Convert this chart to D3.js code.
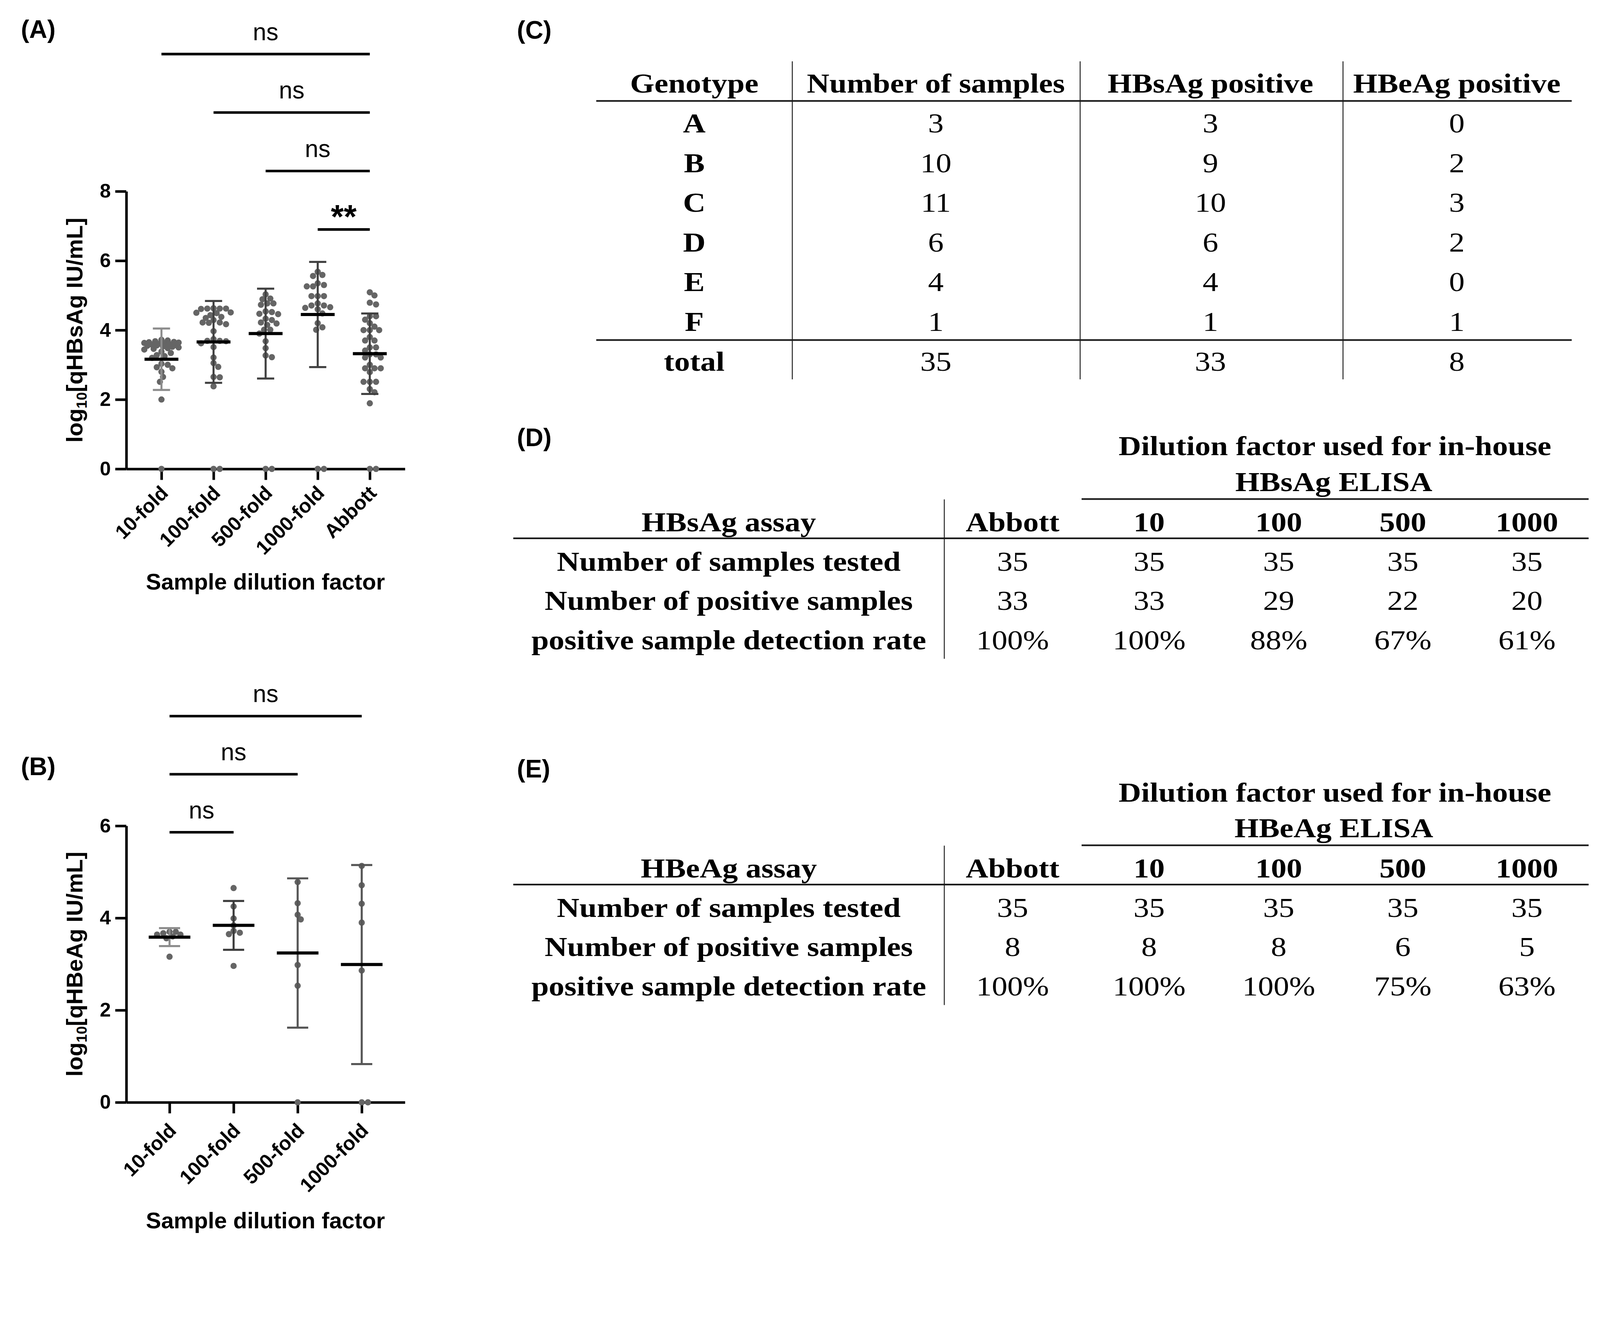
<!DOCTYPE html>
<html>
<head>
<meta charset="utf-8">
<script src="https://cdn.jsdelivr.net/npm/d3@7"></script>
<style>
  html, body { margin: 0; padding: 0; background: #fff; overflow: hidden; }
  svg { display: block; }
</style>
</head>
<body>
<script>
// ================= data =================

// (A) quantitative HBsAg, log10 IU/mL, one array per group (positives only)
const catsA = ["10-fold", "100-fold", "500-fold", "1000-fold", "Abbott"];
const hbs10 = [3.72, 3.70, 3.68, 3.66, 3.65, 3.64, 3.63, 3.62, 3.61, 3.60, 3.58, 3.57, 3.56, 3.55, 3.53,
               3.52, 3.50, 3.48, 3.46, 3.44, 3.38, 3.34, 3.28, 3.25, 3.20, 3.03, 3.00, 2.93, 2.90, 2.80,
               2.65, 2.51, 2.00];
const hbs100 = [4.62, 4.62, 4.61, 4.63, 4.62, 4.50, 4.51, 4.49, 4.43, 4.38, 4.35, 4.29, 4.22, 4.22, 4.21,
                4.17, 3.97, 3.74, 3.69, 3.69, 3.68, 3.62, 3.51, 3.21, 3.05, 2.94, 2.65, 2.64, 2.38];
const hbs500 = [5.03, 4.91, 4.89, 4.77, 4.77, 4.73, 4.54, 4.52, 4.47, 4.46, 4.33, 4.29, 4.22, 4.19, 4.15,
                4.01, 4.01, 3.90, 3.68, 3.48, 3.27, 3.22];
const hbs1000 = [5.68, 5.59, 5.56, 5.35, 5.30, 5.26, 5.26, 4.98, 4.98, 4.98, 4.77, 4.71, 4.71, 4.66, 4.64,
                 4.60, 4.48, 4.20, 4.08, 4.01];
const hbsAbbott = [5.09, 5.00, 4.79, 4.74, 4.40, 4.40, 4.30, 4.20, 4.10, 4.00, 4.00, 4.00, 3.80, 3.70, 3.70,
                   3.50, 3.50, 3.41, 3.30, 3.30, 3.21, 3.21, 3.00, 2.90, 2.90, 2.90, 2.79, 2.51, 2.51, 2.51,
                   2.30, 2.21, 1.89];
const hbsZeros = [1, 2, 2, 2, 2];          // dots drawn on the 0 line
const hbsMean = [3.16, 3.66, 3.90, 4.45, 3.32];
const hbsSD = [0.885, 1.18, 1.295, 1.515, 1.16];
// comparisons, bottom bracket first: [from, to, label]
const sigA = [[3, 4, "**"], [2, 4, "ns"], [1, 4, "ns"], [0, 4, "ns"]];

// (B) quantitative HBeAg
const catsB = ["10-fold", "100-fold", "500-fold", "1000-fold"];
const hbe10 = [3.70, 3.70, 3.67, 3.64, 3.64, 3.60, 3.56, 3.16];
const hbe100 = [4.65, 4.25, 3.99, 3.84, 3.72, 3.68, 3.65, 2.96];
const hbe500 = [4.78, 4.32, 4.07, 3.97, 2.98, 2.53];
const hbe1000 = [5.13, 4.71, 4.31, 3.90, 2.86];
const hbeZeros = [0, 0, 1, 2];
const hbeMean = [3.585, 3.84, 3.24, 2.99];
const hbeSD = [0.195, 0.53, 1.62, 2.16];
const sigB = [[0, 1, "ns"], [0, 2, "ns"], [0, 3, "ns"]];

// (C) genotypes
const headC = ["Genotype", "Number of samples", "HBsAg positive", "HBeAg positive"];
const genotypes = ["A", "B", "C", "D", "E", "F"];
const nSamples = [3, 10, 11, 6, 4, 1];
const hbsPositive = [3, 9, 10, 6, 4, 1];
const hbePositive = [0, 2, 3, 2, 0, 1];
const totalsC = ["total", 35, 33, 8];

// (D) / (E) detection tables
const assayCols = ["Abbott", "10", "100", "500", "1000"];
const rowLabels = ["Number of samples tested", "Number of positive samples", "positive sample detection rate"];
const hbsTested = [35, 35, 35, 35, 35];
const hbsPosCount = [33, 33, 29, 22, 20];
const hbsRate = ["100%", "100%", "88%", "67%", "61%"];
const hbeTested = [35, 35, 35, 35, 35];
const hbePosCount = [8, 8, 8, 6, 5];
const hbeRate = ["100%", "100%", "100%", "75%", "63%"];

// ================= drawing =================
const W = 4358, H = 3371;
const sans = "'Liberation Sans', Arial, sans-serif";
const serif = "'Liberation Serif', 'Times New Roman', serif";

// viewBox so the whole figure always fits the window
const svg = d3.select("body").append("svg")
  .attr("width", "100vw").attr("height", "100vh")
  .attr("viewBox", "0 0 " + W + " " + H)
  .attr("preserveAspectRatio", "xMinYMin meet");
svg.append("rect").attr("width", W).attr("height", H).attr("fill", "#fff");

// panel letters
function panelLabel(x, y, s) {
  svg.append("text").attr("x", x).attr("y", y)
    .attr("font-family", sans).attr("font-weight", "bold").attr("font-size", 68)
    .text(s);
}

// beeswarm limited to a max half-width; overlaps when the group is too dense
function swarm(vals, y, r, maxOff) {
  const sep = 1.7 * r, step = 0.5 * r;
  const n = Math.floor(maxOff / step);
  const cands = [0];
  for (let i = 1; i <= n; i++) cands.push(i * step, -i * step);
  const placed = [];
  vals.slice().sort((a, b) => b - a).forEach(v => {
    const py = y(v);
    let best = null, bestD = -1;
    for (const off of cands) {
      const d = placed.length ? d3.min(placed, p => Math.hypot(p.dx - off, p.y - py)) : Infinity;
      if (d >= sep) { best = off; break; }
      if (d > bestD) { bestD = d; best = off; }
    }
    placed.push({ v: v, dx: best, y: py });
  });
  return placed;
}

function dotPlot(o) {
  const x = d3.scalePoint().domain(o.cats).range([344, 1103]).padding(0.675);
  const y = d3.scaleLinear().domain([0, o.yMax]).range([o.y0, o.yTop]);
  const step = x.step();

  // y axis
  const gy = svg.append("g").attr("transform", "translate(344,0)")
    .call(d3.axisLeft(y).tickValues(o.yTicks).tickFormat(d3.format("d"))
      .tickSize(30).tickSizeOuter(0).tickPadding(12));
  gy.select(".domain").attr("stroke", "#000").attr("stroke-width", 7);
  gy.selectAll(".tick line").attr("stroke", "#000").attr("stroke-width", 7);
  gy.selectAll(".tick text").attr("font-family", sans).attr("font-weight", "bold")
    .attr("font-size", 54).attr("fill", "#000");

  // x axis
  const gx = svg.append("g").attr("transform", "translate(0," + y(0) + ")")
    .call(d3.axisBottom(x).tickSize(30).tickSizeOuter(0));
  gx.select(".domain").attr("stroke", "#000").attr("stroke-width", 7);
  gx.selectAll(".tick line").attr("stroke", "#000").attr("stroke-width", 7);
  gx.selectAll(".tick text")
    .attr("x", 0).attr("y", 0).attr("dy", 0)
    .attr("text-anchor", "end")
    .attr("transform", "translate(21," + o.labelDy + ") rotate(-45)")
    .attr("font-family", sans).attr("font-weight", "bold").attr("font-size", 54).attr("fill", "#000");

  // dots
  const r = 8.5;
  o.groups.forEach((vals, i) => {
    const all = vals.concat(d3.range(o.zeros[i]).map(() => 0));
    const pts = swarm(all, y, r, o.spread * step);
    svg.append("g").selectAll("circle").data(pts).enter().append("circle")
      .attr("cx", d => x(o.cats[i]) + d.dx)
      .attr("cy", d => d.y)
      .attr("r", r)
      .attr("fill", "#656565");
  });

  // SD bars and means
  o.cats.forEach((c, i) => {
    const cx = x(c), m = o.means[i], s = o.sds[i];
    const col = o.barColors[i];
    const g = svg.append("g").attr("stroke", col).attr("stroke-width", 5.5);
    g.append("line").attr("x1", cx).attr("x2", cx).attr("y1", y(m - s)).attr("y2", y(m + s));
    [m - s, m + s].forEach(v => {
      g.append("line").attr("x1", cx - 0.165 * step).attr("x2", cx + 0.165 * step)
        .attr("y1", y(v)).attr("y2", y(v));
    });
    svg.append("line").attr("x1", cx - 0.325 * step).attr("x2", cx + 0.325 * step)
      .attr("y1", y(m)).attr("y2", y(m)).attr("stroke", "#000").attr("stroke-width", 8.5);
  });

  // significance brackets
  o.sig.forEach((c, k) => {
    const yy = y(o.sigBase + k * o.sigStep);
    const x1 = x(o.cats[c[0]]), x2 = x(o.cats[c[1]]);
    svg.append("line").attr("x1", x1).attr("x2", x2).attr("y1", yy).attr("y2", yy)
      .attr("stroke", "#000").attr("stroke-width", 7);
    const star = c[2] !== "ns";
    svg.append("text").attr("x", (x1 + x2) / 2).attr("y", star ? yy - 4 : yy - 38)
      .attr("text-anchor", "middle").attr("font-family", sans)
      .attr("font-weight", star ? "bold" : "normal")
      .attr("font-size", star ? 90 : 66)
      .text(c[2]);
  });

  // axis titles
  const yl = svg.append("text")
    .attr("transform", "translate(224," + (y(0) + y(o.yMax)) / 2 + ") rotate(-90)")
    .attr("text-anchor", "middle").attr("font-family", sans).attr("font-weight", "bold")
    .attr("font-size", 62);
  yl.append("tspan").text("log");
  yl.append("tspan").attr("font-size", 40).attr("dy", 12).text("10");
  yl.append("tspan").attr("dy", -12).text(o.ylabel);

  svg.append("text").attr("x", 723).attr("y", o.titleY)
    .attr("text-anchor", "middle").attr("font-family", sans).attr("font-weight", "bold")
    .attr("font-size", 62).text("Sample dilution factor");
}

panelLabel(57, 103, "(A)");
dotPlot({
  cats: catsA,
  groups: [hbs10, hbs100, hbs500, hbs1000, hbsAbbott],
  zeros: hbsZeros, means: hbsMean, sds: hbsSD,
  yMax: 8, yTicks: [0, 2, 4, 6, 8], y0: 1277, yTop: 521,
  labelDy: 69, spread: 0.34,
  barColors: ["#8c8c8c", "#404040", "#404040", "#404040", "#404040"],
  sig: sigA, sigBase: 6.9, sigStep: 1.685,
  ylabel: "[qHBsAg IU/mL]", titleY: 1605
});

panelLabel(57, 2111, "(B)");
dotPlot({
  cats: catsB,
  groups: [hbe10, hbe100, hbe500, hbe1000],
  zeros: hbeZeros, means: hbeMean, sds: hbeSD,
  yMax: 6, yTicks: [0, 2, 4, 6], y0: 3002, yTop: 2249,
  labelDy: 80, spread: 0.34,
  barColors: ["#8c8c8c", "#3a3a3a", "#555555", "#555555"],
  sig: sigB, sigBase: 5.86, sigStep: 1.26,
  ylabel: "[qHBeAg IU/mL]", titleY: 3345
});

// ---------------- tables ----------------
const fs = 74, stretch = 1.15;
function cell(x, y, s, bold) {
  svg.append("text")
    .attr("transform", "translate(" + x + "," + y + ") scale(" + stretch + ",1)")
    .attr("text-anchor", "middle").attr("font-family", serif)
    .attr("font-weight", bold ? "bold" : "normal").attr("font-size", fs)
    .attr("fill", "#000").text(s);
}
function rule(x1, x2, y1, y2, w) {
  svg.append("line").attr("x1", x1).attr("x2", x2).attr("y1", y1).attr("y2", y2)
    .attr("stroke", "#1a1a1a").attr("stroke-width", w);
}

// (C)
panelLabel(1408, 105, "(C)");
const xC = d3.scaleOrdinal().domain(headC).range([1891, 2549, 3297, 3968]);
const rowC = d3.scaleLinear().domain([0, 5]).range([361, 901]);
headC.forEach(h => cell(xC(h), 252, h, true));
rule(1624, 4281, 275, 275, 4.5);
genotypes.forEach((g, i) => {
  cell(xC(headC[0]), rowC(i), g, true);
  cell(xC(headC[1]), rowC(i), nSamples[i], false);
  cell(xC(headC[2]), rowC(i), hbsPositive[i], false);
  cell(xC(headC[3]), rowC(i), hbePositive[i], false);
});
rule(1624, 4281, 926, 926, 4.5);
totalsC.forEach((t, j) => cell(xC(headC[j]), 1010, t, j === 0));
[2158, 2942, 3658].forEach(xx => rule(xx, xx, 167, 1033, 2.5));

// (D) and (E)
const xD = d3.scaleOrdinal().domain(assayCols).range([2758, 3130, 3483, 3821, 4159]);
const rowD = d3.scaleLinear().domain([0, 2]).range([1554, 1768]);
function assayTable(off, antigen, rows) {
  cell(3636, 1240 + off, "Dilution factor used for in-house", true);
  cell(3633, 1337 + off, antigen + " ELISA", true);
  rule(2946, 4327, 1359 + off, 1359 + off, 4.5);
  cell(1985, 1447 + off, antigen + " assay", true);
  assayCols.forEach(c => cell(xD(c), 1447 + off, c, true));
  rule(1398, 4327, 1466 + off, 1466 + off, 4.5);
  rowLabels.forEach((lab, i) => {
    cell(1985, rowD(i) + off, lab, true);
    rows[i].forEach((v, j) => cell(xD(assayCols[j]), rowD(i) + off, v, false));
  });
  rule(2572, 2572, 1360 + off, 1794 + off, 2.5);
}
panelLabel(1408, 1215, "(D)");
assayTable(0, "HBsAg", [hbsTested, hbsPosCount, hbsRate]);
panelLabel(1408, 2117, "(E)");
assayTable(943, "HBeAg", [hbeTested, hbePosCount, hbeRate]);
</script>
</body>
</html>
